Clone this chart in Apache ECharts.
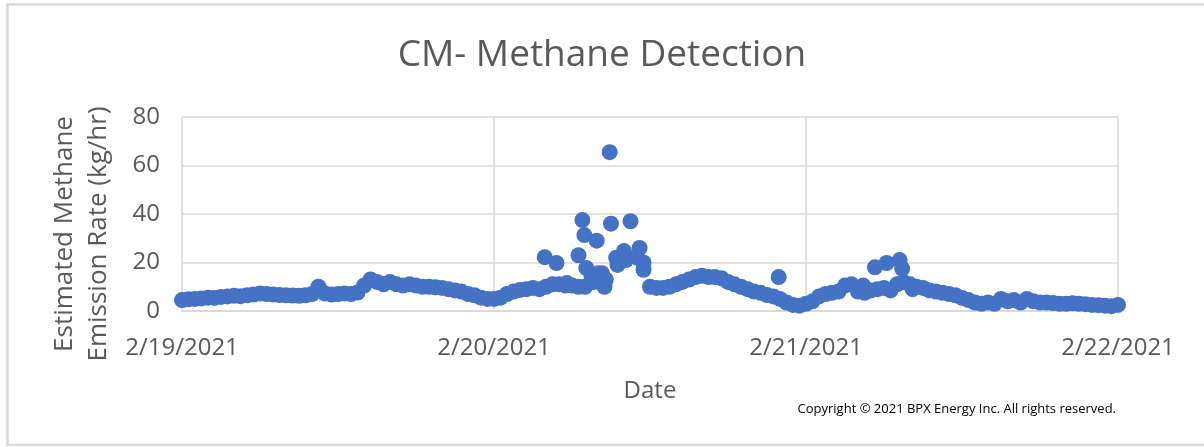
<!DOCTYPE html>
<html>
<head>
<meta charset="utf-8">
<title>CM- Methane Detection</title>
<script src="https://cdn.jsdelivr.net/npm/echarts@6/dist/echarts.min.js"></script>
<style>
  html, body { margin: 0; padding: 0; background: #fff; }
  #chart { width: 1204px; height: 447px; }
</style>
</head>
<body>
<div id="chart"></div>
<script>
// start of the record, 2/19/2021 00:00 (UTC, a whole number of days)
const startTime = Date.UTC(2021, 1, 19)
const dayMs = 86400000
const stepMs = 30 * 60 * 1000 // base readings every 30 minutes

// estimated emission rate (kg/hr), one value per 30 min, 2/19 00:00 .. 2/22 00:00
const baseRate = [
  // 2/19
  4.5, 4.8, 5.0, 5.2, 5.5, 5.4, 5.8, 6.0, 6.3, 6.1, 6.5, 6.8,
  7.2, 7.0, 6.8, 6.6, 6.5, 6.4, 6.3, 6.5, 7.0, 10.0, 7.2, 6.8,
  7.0, 7.2, 7.0, 7.6, 10.5, 13.0, 12.0, 11.0, 12.0, 11.0, 10.5, 11.0,
  10.5, 10.0, 10.0, 9.8, 9.5, 9.0, 8.5, 8.0, 7.0, 6.5, 5.5, 5.0,
  // 2/20
  5.0, 5.5, 7.0, 8.0, 8.7, 9.0, 9.5, 9.0, 10.0, 11.0, 11.0, 10.5,
  10.5, 10.0, 10.0, 12.0, 15.6, 10.0, 36.0, 19.0, 24.7, 37.0, 22.0, 17.0,
  10.0, 9.5, 9.5, 10.0, 11.0, 12.0, 13.0, 14.0, 14.5, 14.0, 14.0, 13.5,
  12.0, 11.0, 10.0, 9.0, 8.0, 7.5, 6.6, 6.0, 5.0, 3.5, 2.5, 2.2,
  // 2/21
  3.0, 4.0, 6.0, 7.0, 7.5, 8.0, 10.5, 11.0, 8.0, 7.5, 8.5, 9.0,
  9.5, 8.5, 11.0, 12.0, 11.0, 10.0, 9.5, 8.5, 8.0, 7.5, 7.0, 6.5,
  5.4, 4.5, 3.5, 3.0, 3.5, 3.0, 5.0, 4.0, 4.5, 3.5, 5.0, 4.0,
  3.5, 3.5, 3.3, 3.0, 3.0, 3.2, 3.0, 2.8, 2.5, 2.4, 2.2, 2.0,
  // 2/22 00:00
  2.5
]

// extra scattered readings: hours after 2/19 00:00 and their rates
const spikeHours = [27.9, 28.8, 29.6, 30.5, 30.8, 30.95, 31.1, 31.5, 31.7, 31.9, 32.3, 32.6, 32.9, 33.4, 34.15, 35.2, 35.5, 45.9, 52.4, 53.3, 54.2, 55.2, 55.4, 56.2]
const spikeRate = [22.2, 19.8, 11.5, 23.0, 37.5, 31.3, 17.7, 14.0, 12.0, 29.0, 15.6, 13.0, 65.5, 22.0, 21.0, 26.0, 20.0, 14.0, 10.5, 18.0, 19.8, 21.0, 17.5, 9.0]

const yTicks = [0, 20, 40, 60, 80]

const points = baseRate.map((v, i) => [startTime + i * stepMs, v])
spikeHours.forEach((h, i) => points.push([startTime + h * 3600000, spikeRate[i]]))

const dateLabel = (val) => {
  const d = new Date(val)
  return (d.getUTCMonth() + 1) + '/' + d.getUTCDate() + '/' + d.getUTCFullYear()
}

const myChart = echarts.init(document.getElementById('chart'))

const textColor = '#595959'
const gridColor = '#d9d9d9'
const font = 'Open Sans'

const option = {
  backgroundColor: '#fff',
  animation: false,
  title: {
    text: 'CM- Methane Detection',
    left: 'center',
    top: 32,
    textStyle: {
      color: textColor,
      fontFamily: font,
      fontWeight: 'normal',
      fontSize: 37
    }
  },
  graphic: [
    {
      type: 'rect',
      shape: { x: 7.5, y: 4.5, width: 1210, height: 440.5 },
      style: { fill: null, stroke: gridColor, lineWidth: 2.5 },
      silent: true
    },
    {
      type: 'text',
      right: 88,
      top: 403,
      style: {
        text: 'Copyright © 2021 BPX Energy Inc. All rights reserved.',
        fill: '#000',
        font: '13px "Open Sans"'
      }
    }
  ],
  grid: {
    left: 182,
    right: 86,
    top: 117,
    bottom: 136
  },
  xAxis: {
    type: 'value',
    min: startTime,
    max: startTime + 3 * dayMs,
    interval: dayMs,
    name: 'Date',
    nameLocation: 'middle',
    nameGap: 68,
    nameTextStyle: { color: textColor, fontFamily: font, fontSize: 24 },
    axisLine: { show: true, lineStyle: { color: gridColor, width: 2 } },
    axisTick: { show: false },
    axisLabel: {
      color: textColor,
      fontFamily: font,
      fontSize: 24,
      margin: 25,
      showMinLabel: true,
      showMaxLabel: true,
      formatter: dateLabel
    },
    splitLine: { show: true, lineStyle: { color: gridColor, width: 1.5 } }
  },
  yAxis: {
    type: 'value',
    min: yTicks[0],
    max: yTicks[yTicks.length - 1],
    interval: yTicks[1] - yTicks[0],
    name: 'Estimated Methane\nEmission Rate (kg/hr)',
    nameLocation: 'middle',
    nameRotate: 90,
    nameGap: 66,
    nameTextStyle: {
      color: textColor,
      fontFamily: font,
      fontSize: 26,
      lineHeight: 34,
      padding: [0, 40, 0, 0]
    },
    axisLine: { show: false },
    axisTick: { show: false },
    axisLabel: { color: textColor, fontFamily: font, fontSize: 24, margin: 22 },
    splitLine: { show: true, lineStyle: { color: gridColor, width: 1.5 } }
  },
  series: [
    {
      type: 'scatter',
      symbol: 'circle',
      symbolSize: 16,
      itemStyle: { color: '#4472C4', opacity: 1 },
      data: points
    }
  ]
}

option && myChart.setOption(option)
</script>
</body>
</html>
